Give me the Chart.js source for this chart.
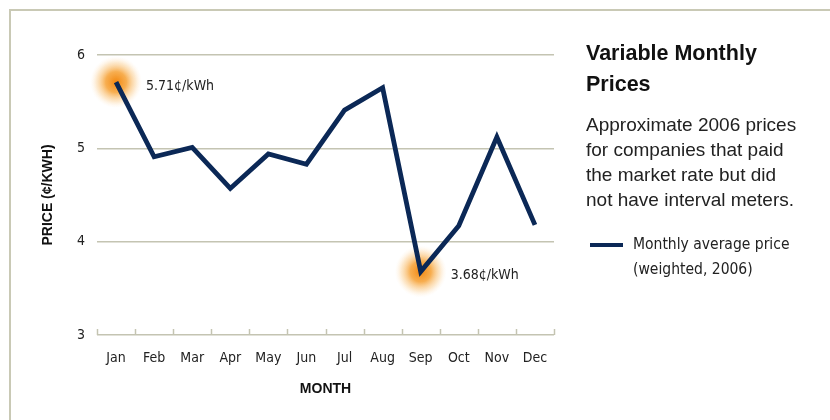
<!DOCTYPE html>
<html>
<head>
<meta charset="utf-8">
<script src="https://cdn.jsdelivr.net/npm/chart.js@4"></script>
<style>
  body { margin: 0; background: #fff; }
  #wrap { position: relative; width: 830px; height: 420px; overflow: hidden; }
  #frame { position: absolute; left: 9px; top: 9px; right: -5px; bottom: -5px;
           border-top: 2px solid #c9c9b5; border-left: 2px solid #c9c9b5; }
  #chart { position: absolute; left: 0; top: 0; }
  .side { position: absolute; left: 586px; color: #111; font-family: "Liberation Sans", Arial, sans-serif; }
  #title { top: 38px; font-weight: bold; font-size: 21.5px; line-height: 31px; }
  #desc { top: 112px; font-size: 19px; line-height: 25px; color: #222; }
  #legend { top: 232px; left: 590px; font-family: "DejaVu Sans Condensed", sans-serif;
            font-size: 15.5px; line-height: 25px; color: #222; }
  #legend .sw { position: absolute; left: 0; top: 11px; width: 33px; height: 4px; background: #0b2856; }
  #legend .tx { position: absolute; left: 43px; top: 0; white-space: nowrap; }
</style>
</head>
<body>
<div id="wrap">
  <div id="frame"></div>
  <canvas id="chart" width="830" height="420"></canvas>
  <div class="side" id="title">Variable Monthly<br>Prices</div>
  <div class="side" id="desc">Approximate 2006 prices<br>for companies that paid<br>the market rate but did<br>not have interval meters.</div>
  <div class="side" id="legend"><div class="sw"></div><div class="tx">Monthly average price<br>(weighted, 2006)</div></div>
</div>
<script>
const months = ['Jan','Feb','Mar','Apr','May','Jun','Jul','Aug','Sep','Oct','Nov','Dec']
const prices = [5.71, 4.91, 5.01, 4.57, 4.94, 4.83, 5.41, 5.65, 3.68, 4.17, 5.12, 4.18]
const yTicks = [3, 4, 5, 6]
const callouts = [
  { index: 0, text: '5.71¢/kWh' },
  { index: 8, text: '3.68¢/kWh' }
]

const narrow = '"DejaVu Sans Condensed", sans-serif'
const gridColor = '#c4c4b2'

// orange glow under the highlighted points, labels next to them
const highlights = {
  id: 'highlights',
  beforeDatasetsDraw(chart) {
    const ctx = chart.ctx
    const meta = chart.getDatasetMeta(0)
    callouts.forEach(c => {
      const p = meta.data[c.index]
      const g = ctx.createRadialGradient(p.x, p.y, 0, p.x, p.y, 26)
      g.addColorStop(0, 'rgba(242,135,15,1)')
      g.addColorStop(0.4, 'rgba(246,160,50,0.85)')
      g.addColorStop(0.75, 'rgba(250,200,130,0.4)')
      g.addColorStop(1, 'rgba(255,235,210,0)')
      ctx.save()
      ctx.fillStyle = g
      ctx.beginPath()
      ctx.arc(p.x, p.y, 26, 0, Math.PI * 2)
      ctx.fill()
      ctx.restore()
    })
  },
  afterDatasetsDraw(chart) {
    const ctx = chart.ctx
    const meta = chart.getDatasetMeta(0)
    const x = chart.scales.x
    ctx.save()
    // small upward tick marks on the baseline
    ctx.strokeStyle = gridColor
    ctx.lineWidth = 1.5
    const base = chart.chartArea.bottom
    for (let i = 0; i <= months.length; i++) {
      const px = Math.round(x.getPixelForValue(i - 0.5)) + 0.5
      ctx.beginPath()
      ctx.moveTo(px, base)
      ctx.lineTo(px, base - 6)
      ctx.stroke()
    }
    ctx.fillStyle = '#222'
    ctx.font = '14px ' + narrow
    ctx.textBaseline = 'middle'
    callouts.forEach(c => {
      const p = meta.data[c.index]
      ctx.fillText(c.text, p.x + 30, p.y + 4)
    })
    ctx.restore()
  }
}

const ctx1 = document.getElementById('chart')
let priceChart = new Chart(ctx1, {
  type: 'line',
  data: {
    labels: months,
    datasets: [{
      label: 'Monthly average price (weighted, 2006)',
      data: prices,
      borderColor: '#0b2856',
      borderWidth: 4.8,
      borderJoinStyle: 'miter',
      pointRadius: 0,
      tension: 0
    }]
  },
  options: {
    responsive: false,
    animation: false,
    layout: { padding: { top: 55, right: 276, left: 0, bottom: 0 } },
    plugins: { legend: { display: false }, tooltip: { enabled: false } },
    scales: {
      x: {
        offset: true,
        grid: { display: false },
        border: { display: false },
        ticks: { color: '#222', font: { family: narrow, size: 14 }, padding: 7, maxRotation: 0 },
        title: { display: true, text: 'MONTH', color: '#111', font: { family: 'Liberation Sans', size: 14, weight: 'bold' }, padding: { top: 0, bottom: 22 } },
        afterFit: s => { s.height = 85 }
      },
      y: {
        min: 3, max: 6,
        afterBuildTicks: s => { s.ticks = yTicks.map(v => ({ value: v })) },
        grid: { color: gridColor, lineWidth: 1.5, drawTicks: false },
        border: { display: false },
        ticks: { color: '#222', font: { family: narrow, size: 14 }, padding: 12 },
        title: { display: true, text: 'PRICE (¢/KWH)', color: '#111', font: { family: 'Liberation Sans', size: 14, weight: 'bold' }, padding: { top: 40, bottom: 0 } },
        afterFit: s => { s.width = 97 }
      }
    }
  },
  plugins: [highlights]
})
</script>
</body>
</html>
